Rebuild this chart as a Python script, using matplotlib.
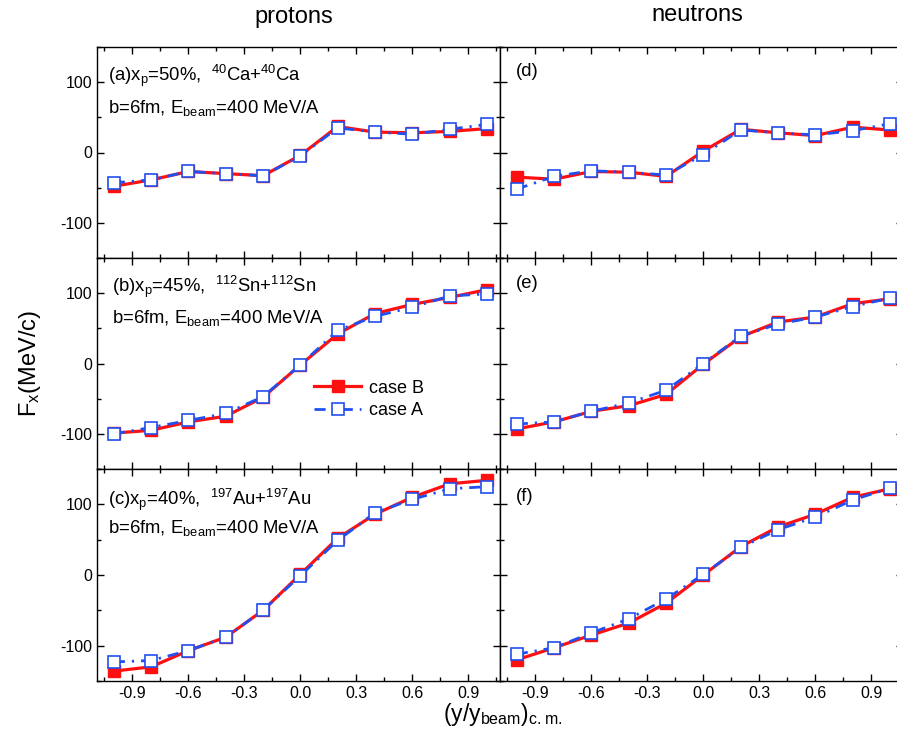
import matplotlib
matplotlib.use("Agg")
from matplotlib import pyplot as plt
from matplotlib.ticker import FixedLocator, MultipleLocator, FormatStrFormatter

plt.rcParams['font.family'] = ['Liberation Sans', 'DejaVu Sans']
plt.rcParams['axes.unicode_minus'] = False

rapidity = [-1.0, -0.8, -0.6, -0.4, -0.2, 0.0, 0.2, 0.4, 0.6, 0.8, 1.0]

# protons
caseB_a = [-48, -39, -27, -30, -33, -4, 37, 29, 28, 30, 34]
caseA_a = [-43, -39, -27, -30, -33, -5, 35, 29, 26, 33, 40]
caseB_b = [-99, -95, -83, -75, -48, -2, 42, 71, 84, 94, 105]
caseA_b = [-100, -91, -81, -71, -47, -2, 47, 67, 80, 96, 99]
caseB_c = [-136, -130, -107, -88, -50, 1, 52, 86, 110, 129, 134]
caseA_c = [-123, -121, -107, -88, -50, -1, 49, 88, 107, 122, 125]

# neutrons
caseB_d = [-35, -38, -27, -28, -34, 2, 33, 28, 24, 36, 32]
caseA_d = [-52, -34, -26, -28, -32, -3, 32, 28, 25, 31, 41]
caseB_e = [-93, -83, -68, -60, -44, -1, 38, 59, 66, 85, 92]
caseA_e = [-86, -83, -68, -56, -38, 0, 39, 56, 66, 81, 93]
caseB_f = [-120, -103, -85, -68, -40, 0, 40, 68, 86, 110, 122]
caseA_f = [-112, -103, -82, -62, -34, 1, 39, 64, 82, 106, 123]

xticks = [-0.9, -0.6, -0.3, 0.0, 0.3, 0.6, 0.9]
yticks = [-100, 0, 100]

labels_left = [
    (r'(a)x$\mathregular{_p}$=50%,  $\mathregular{^{40}}$Ca+$\mathregular{^{40}}$Ca',
     r'b=6fm, E$\mathregular{_{beam}}$=400 MeV/A'),
    (r'(b)x$\mathregular{_p}$=45%,  $\mathregular{^{112}}$Sn+$\mathregular{^{112}}$Sn',
     r'b=6fm, E$\mathregular{_{beam}}$=400 MeV/A'),
    (r'(c)x$\mathregular{_p}$=40%,  $\mathregular{^{197}}$Au+$\mathregular{^{197}}$Au',
     r'b=6fm, E$\mathregular{_{beam}}$=400 MeV/A'),
]
labels_right = ['(d)', '(e)', '(f)']

red = '#ff1010'
blue = '#2050f0'

W, H = 897, 740
fig = plt.figure(figsize=(W / 100.0, H / 100.0), dpi=100)

row_px = [(47, 258), (258, 469), (469, 681)]
col_px = [97, 500]
panel_w = 403

data = [[(caseB_a, caseA_a), (caseB_d, caseA_d)],
        [(caseB_b, caseA_b), (caseB_e, caseA_e)],
        [(caseB_c, caseA_c), (caseB_f, caseA_f)]]

axes = {}
for r, (top, bot) in enumerate(row_px):
    for c, x0 in enumerate(col_px):
        ax = fig.add_axes([x0 / W, (H - bot) / H, panel_w / W, (bot - top) / H])
        axes[(r, c)] = ax
        yb, ya = data[r][c]
        ax.plot(rapidity, yb, color=red, lw=2.3, marker='s', markersize=8,
                markerfacecolor=red, markeredgecolor=red, label='case B', zorder=2)
        ax.plot(rapidity, ya, color=blue, lw=2.0, dashes=(4, 2.5, 0.8, 2.5),
                marker='s', markersize=9, markerfacecolor='white',
                markeredgecolor=blue, markeredgewidth=1.2, label='case A', zorder=3)
        ax.set_xlim(-1.09, 1.07)
        ax.set_ylim(-150, 150)
        ax.xaxis.set_major_locator(FixedLocator(xticks))
        ax.xaxis.set_minor_locator(MultipleLocator(0.15))
        ax.yaxis.set_major_locator(FixedLocator(yticks))
        ax.yaxis.set_minor_locator(MultipleLocator(50))
        ax.xaxis.set_major_formatter(FormatStrFormatter('%.1f'))
        ax.tick_params(which='both', direction='in', top=True, right=True,
                       labelsize=11.5)
        ax.tick_params(which='major', length=5, width=1)
        ax.tick_params(which='minor', length=3, width=1)
        for s in ax.spines.values():
            s.set_linewidth(1.0)
        if c == 1:
            ax.tick_params(labelleft=False)
        if r < 2:
            ax.tick_params(labelbottom=False)

        if c == 0:
            l1, l2 = labels_left[r]
            xs = 0.027 if r != 1 else 0.037
            ys = [(0.865, 0.71), (0.862, 0.716), (0.855, 0.72)][r]
            ax.text(xs, ys[0], l1, transform=ax.transAxes, fontsize=13.3, va='center')
            ax.text(xs, ys[1], l2, transform=ax.transAxes, fontsize=13.3, va='center')
        else:
            yl = [0.886, 0.877, 0.868][r]
            ax.text(0.04, yl, labels_right[r], transform=ax.transAxes,
                    fontsize=13.3, va='center')

leg = axes[(1, 0)].legend(loc='center', bbox_to_anchor=(0.675, 0.33),
                          frameon=False, fontsize=13, handlelength=2.6,
                          handletextpad=0.4, labelspacing=0.3)

fig.text(294 / W, 1 - 17 / H, 'protons', fontsize=17, ha='center', va='center')
fig.text(697 / W, 1 - 15 / H, 'neutrons', fontsize=17, ha='center', va='center')
fig.text(30 / W, 1 - 364 / H, r'F$\mathregular{_x}$(MeV/c)', fontsize=17,
         rotation=90, ha='center', va='center')
fig.text(503 / W, 1 - 714 / H, r'(y/y$\mathregular{_{beam}}$)$\mathregular{_{c.m.}}$',
         fontsize=16.5, ha='center', va='center')

fig.savefig('out.png', dpi=100)
